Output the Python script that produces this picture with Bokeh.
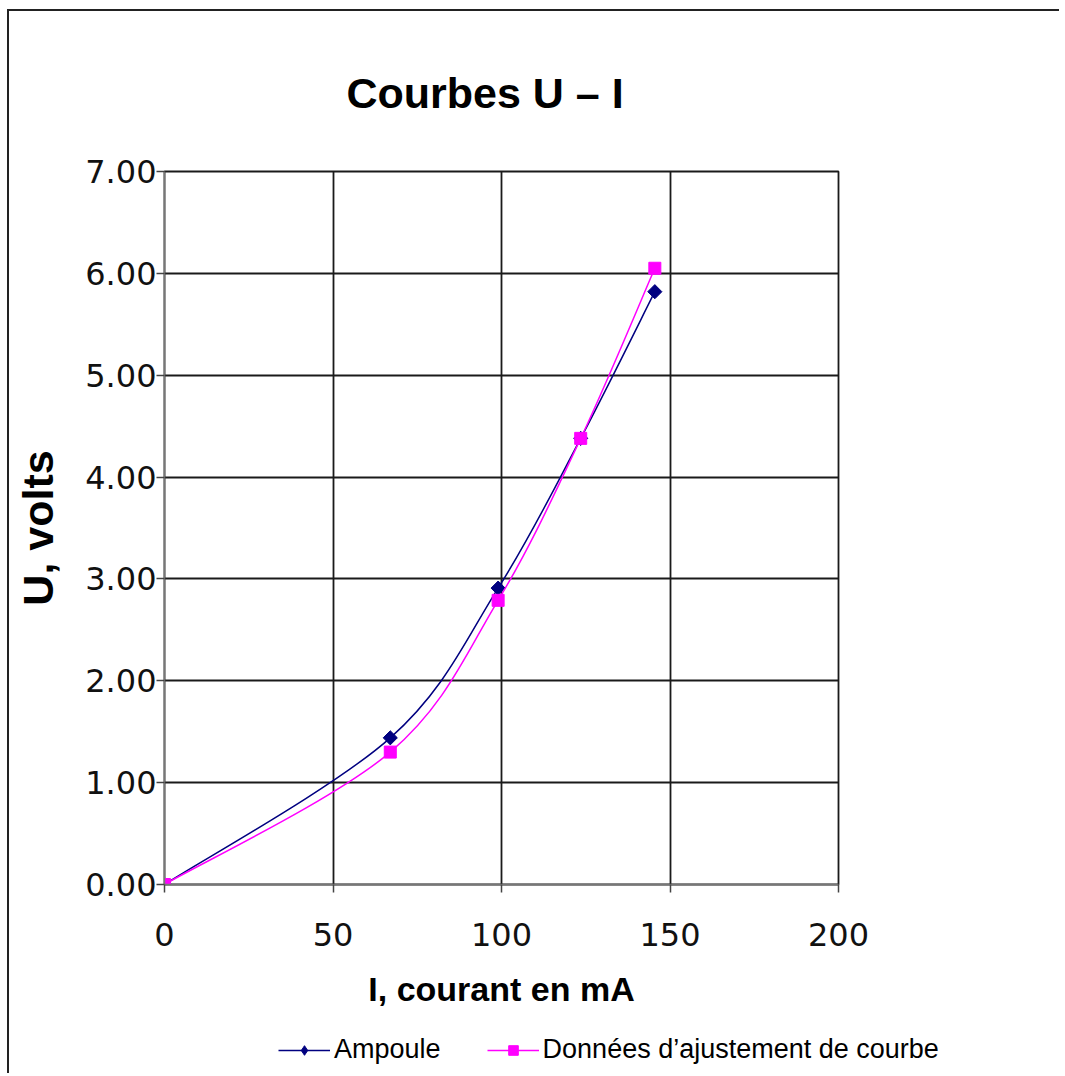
import numpy as np
from bokeh.plotting import figure
from bokeh.layouts import column, row
from bokeh.models import (Range1d, FixedTicker, PrintfTickFormatter, Legend,
                          LegendItem, ColumnDataSource)
from bokeh.embed import file_html
from bokeh.resources import INLINE

# ---- data ----
current_ma = [0, 67, 99, 123.5, 145.5]          # I, courant en mA
u_ampoule = [0.00, 1.44, 2.91, 4.38, 5.82]       # Ampoule (volts)
u_fit = [0.00, 1.30, 2.79, 4.38, 6.05]           # Données d'ajustement de courbe
x_ticks = [0, 50, 100, 150, 200]
y_ticks = [0, 1, 2, 3, 4, 5, 6, 7]

title_text = "Courbes U \u2013 I"
x_label = "I, courant en mA"
y_label = "U, volts"
series_names = ["Ampoule", "Donn\u00e9es d\u2019ajustement de courbe"]

NAVY = "#000080"
MAGENTA = "#FF00FF"


def smooth_segments(xs, ys):
    """Cubic Bezier segments (smoothed line rendering) through the data points."""
    n = len(xs)
    d = {k: [] for k in ("x0", "y0", "x1", "y1", "cx0", "cy0", "cx1", "cy1")}
    for i in range(n - 1):
        xp, yp = (xs[i - 1], ys[i - 1]) if i > 0 else (xs[i], ys[i])
        xn, yn = (xs[i + 2], ys[i + 2]) if i + 2 < n else (xs[i + 1], ys[i + 1])
        d["x0"].append(xs[i]); d["y0"].append(ys[i])
        d["x1"].append(xs[i + 1]); d["y1"].append(ys[i + 1])
        d["cx0"].append(xs[i] + (xs[i + 1] - xp) / 6.0)
        d["cy0"].append(ys[i] + (ys[i + 1] - yp) / 6.0)
        d["cx1"].append(xs[i + 1] - (xn - xs[i]) / 6.0)
        d["cy1"].append(ys[i + 1] - (yn - ys[i]) / 6.0)
    return ColumnDataSource(d)


OX, OY = 9, 11          # where the content starts on the page
W, H = 1050, 1014       # main chart
H2 = 48                 # legend strip below it

p = figure(width=W, height=H, output_backend="svg", toolbar_location=None,
           x_range=Range1d(0, 200), y_range=Range1d(0, 7),
           min_border_left=164 - OX, min_border_right=OX + W - 838,
           min_border_top=170 - OY, min_border_bottom=OY + H - 884,
           background_fill_color="white", border_fill_color="white")

# title
p.title.text = title_text
p.title.align = "left"
p.title.text_font = "Liberation Sans"
p.title.text_font_style = "bold"
p.title.text_font_size = "43px"
p.title.text_color = "black"
p.title.text_line_height = 1.0
p.title.standoff = 110
p.title.offset = 182

# axes
for ax in (p.xaxis[0], p.yaxis[0]):
    ax.major_label_text_font = "DejaVu Sans"
    ax.major_label_text_font_size = "32px"
    ax.major_label_text_color = "#111"
    ax.axis_label_text_font = "Liberation Sans"
    ax.axis_label_text_font_style = "bold"
    ax.axis_label_text_color = "black"
    ax.axis_line_color = "#777"
    ax.axis_line_width = 1.5
    ax.major_tick_line_color = "#444"
    ax.major_tick_line_width = 1.5
    ax.major_tick_in = 0
    ax.major_tick_out = 8
    ax.minor_tick_line_color = None

p.xaxis.ticker = FixedTicker(ticks=x_ticks)
p.yaxis.ticker = FixedTicker(ticks=y_ticks)
p.yaxis.formatter = PrintfTickFormatter(format="%.2f")
p.xaxis.major_label_standoff = 30
p.yaxis.major_label_standoff = 0
p.xaxis.axis_label = x_label
p.xaxis.axis_label_text_font_size = "34px"
p.xaxis.axis_label_standoff = 21
p.yaxis.axis_label = y_label
p.yaxis.axis_label_text_font_size = "43px"
p.yaxis.axis_label_standoff = 20

p.grid.grid_line_color = "#1a1a1a"
p.grid.grid_line_width = 1.8
p.outline_line_color = "#1a1a1a"
p.outline_line_width = 1.8

# series
src_a = smooth_segments(current_ma, u_ampoule)
src_f = smooth_segments(current_ma, u_fit)

p.bezier(x0="x0", y0="y0", x1="x1", y1="y1", cx0="cx0", cy0="cy0",
         cx1="cx1", cy1="cy1", source=src_a, line_color=NAVY, line_width=1.5)
p.scatter(current_ma, u_ampoule, marker="square", angle=np.pi / 4,
          size=10, fill_color=NAVY, line_color=NAVY)
p.bezier(x0="x0", y0="y0", x1="x1", y1="y1", cx0="cx0", cy0="cy0",
         cx1="cx1", cy1="cy1", source=src_f, line_color=MAGENTA, line_width=1.5)
p.scatter(current_ma, u_fit, marker="square", size=12,
          fill_color=MAGENTA, line_color=MAGENTA)

# ---- legend strip (its own small plot so it can sit below the axis title) ----
lp = figure(width=W, height=H2, output_backend="svg", toolbar_location=None,
            x_range=Range1d(-10, -9), y_range=Range1d(-10, -9),
            min_border=0, min_border_left=0, min_border_right=0,
            min_border_top=0, min_border_bottom=0,
            background_fill_color="white", border_fill_color="white")
lp.axis.visible = False
lp.grid.visible = False
lp.outline_line_color = None
lp.title.visible = False

# same series styles; their data lies outside this strip's ranges, so only
# the legend samples are visible
lg_a = lp.line(current_ma[:2], u_ampoule[:2], line_color=NAVY, line_width=1.6)
mk_a = lp.scatter(current_ma, u_ampoule, marker="diamond", size=15,
                  fill_color=NAVY, line_color=NAVY)
lg_f = lp.line(current_ma[:2], u_fit[:2], line_color=MAGENTA, line_width=1.6)
mk_f = lp.scatter(current_ma, u_fit, marker="square", size=12,
                  fill_color=MAGENTA, line_color=MAGENTA)

legend = Legend(items=[LegendItem(label=series_names[0], renderers=[lg_a, mk_a]),
                       LegendItem(label=series_names[1], renderers=[lg_f, mk_f])],
                orientation="horizontal", location=(278 - OX, 8),
                glyph_width=52, glyph_height=24, label_standoff=4, spacing=46,
                padding=0, margin=0, border_line_alpha=0,
                background_fill_alpha=0,
                label_text_font="Liberation Sans", label_text_font_size="27px",
                label_text_color="black")
lp.add_layout(legend, "center")

layout = column(p, row(lp), spacing=0)
layout.styles = {"margin-left": "7px", "margin-top": "9px",
                 "border-top": "2px solid #222", "border-left": "2px solid #222"}

open("out.html", "w").write(file_html(layout, INLINE))
